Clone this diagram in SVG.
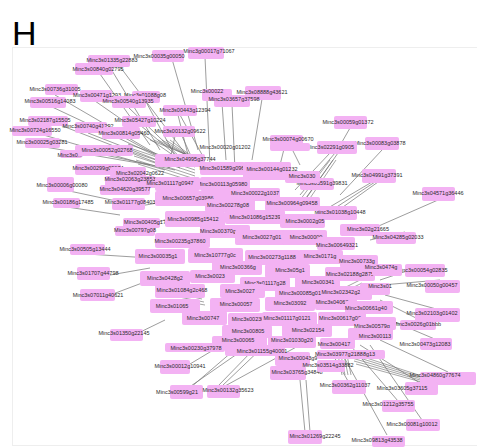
<svg xmlns="http://www.w3.org/2000/svg" width="477" height="447" viewBox="0 0 477 447">
<style>
.n rect{fill:#f3b2f3;stroke:none}
.n text{font-family:"Liberation Sans",Arial,sans-serif;font-size:5.5px;fill:#2a2a2a;text-anchor:middle}
.e path{stroke:#7c7c7c;stroke-width:0.75;fill:none}
.e path.h{stroke:#6a6a6a;stroke-width:0.6}
</style>
<rect width="477" height="447" fill="#fff"/>
<rect x="12.5" y="47.5" width="470" height="398" fill="none" stroke="#eeeeee" stroke-width="1"/>
<text x="12" y="45" font-family="Liberation Sans,Arial,sans-serif" font-size="34" fill="#000">H</text>
<g id="connectors" class="e">
<path d="M108,64 L160,150 M100,74 L150,145 M118,64 L190,160 M205,57 L210,165 M172,59 L198,150 M262,99 L252,160 M232,104 L235,170 M222,103 L226,160 M180,115 L205,160 M178,115 L188,155 M182,136 L195,165 M175,136 L170,160 M350,128 L342,142 M335,153 L300,195 M330,153 L295,190 M338,153 L305,200 M382,150 L340,195 M375,182 L332,210 M378,182 L336,212 M372,182 L328,208 M438,200 L365,232 M285,145 L280,165 M290,145 L300,165"/>
<path d="M55,95 L175,165 M95,101 L180,160 M50,106 L165,160 M128,107 L185,162 M145,100 L180,165 M60,125 L170,168 M40,134 L165,170 M88,133 L170,165 M125,138 L180,168 M140,125 L182,160 M45,147 L150,165 M105,155 L175,170 M120,174 L175,180 M60,189 L135,205 M130,184 L180,190 M67,207 L120,215 M128,208 L175,200 M143,227 L180,215 M87,254 L150,258 M93,278 L150,268 M97,300 L150,280 M126,339 L165,320"/>
<path d="M180,370 L230,340 M188,388 L250,345 M190,388 L240,345 M222,386 L265,345 M218,386 L255,348 M225,386 L300,345 M305,432 L300,380 M310,432 L306,380 M348,381 L330,350 M448,372 L380,340 M420,383 L360,345 M398,401 L350,345 M422,420 L370,345 M387,435 L340,350 M437,340 L390,320 M420,320 L380,300 M440,310 L385,295 M425,265 L380,280 M440,280 L382,285 M405,232 L370,240"/>
<path class="h" d="M130,148 L195,170 M132,152 L195,173 M134,156 L195,176 M136,160 L195,179 M138,164 L195,182 M128,144 L195,167 M150,140 L200,160 M154,140 L202,162 M158,140 L204,164 M162,140 L206,166 M166,140 L208,168 M170,140 L210,170"/>
<path class="h" d="M170,288 L200,296 M172,292 L202,299 M174,296 L204,302 M168,284 L198,293 M176,300 L205,305"/>
<path class="h" d="M350,355 L430,380 M352,358 L432,382 M354,361 L434,384 M348,352 L428,378 M356,364 L436,386 M340,350 L345,375 M343,350 L348,375 M346,350 L351,375 M337,350 L342,375"/>
<path class="h" d="M300,200 L330,160 M303,202 L333,160 M306,204 L336,160 M320,300 L360,280 M322,303 L362,283 M324,306 L364,286"/>
</g>
<g id="nodes">
<g class="n" id="n1"><rect x="88" y="55" width="42" height="12" rx="2"/><text x="112" y="62">Minc3s01335g22883</text></g>
<g class="n" id="n2"><rect x="75" y="63" width="38" height="12" rx="2"/><text x="98" y="71">Minc3s00840g02795</text></g>
<g class="n" id="n3"><rect x="188" y="47" width="36" height="12" rx="2"/><text x="209" y="53">Minc3g00017g71067</text></g>
<g class="n" id="n4"><rect x="152" y="50" width="32" height="12" rx="2"/><text x="159" y="58">Minc3s00035g00050</text></g>
<g class="n" id="n5"><rect x="245" y="86" width="36" height="14" rx="2"/><text x="262" y="94">Minc3s08888g43621</text></g>
<g class="n" id="n6"><rect x="202" y="89" width="30" height="12" rx="2"/><text x="207" y="93">Minc3s00022</text></g>
<g class="n" id="n6b"><rect x="214" y="95" width="36" height="12" rx="2"/><text x="234" y="101">Minc3s03657g37598</text></g>
<g class="n" id="n7"><rect x="45" y="84" width="33" height="11" rx="2"/><text x="55" y="91">Minc3s00736g31005</text></g>
<g class="n" id="n8"><rect x="80" y="90" width="32" height="12" rx="2"/><text x="97" y="97">Minc3s00471g1293</text></g>
<g class="n" id="n9"><rect x="30" y="97" width="36" height="11" rx="2"/><text x="50" y="103">Minc3s00516g14083</text></g>
<g class="n" id="n10"><rect x="132" y="91" width="28" height="12" rx="2"/><text x="145" y="97">Minc3s01088g08</text></g>
<g class="n" id="n11"><rect x="112" y="96" width="34" height="12" rx="2"/><text x="128" y="103">Minc3s00540g13935</text></g>
<g class="n" id="n12"><rect x="163" y="105" width="34" height="11" rx="2"/><text x="185" y="112">Minc3s00443g12394</text></g>
<g class="n" id="n13"><rect x="163" y="126" width="32" height="11" rx="2"/><text x="180" y="133">Minc3s00132g09622</text></g>
<g class="n" id="n14"><rect x="28" y="116" width="40" height="10" rx="2"/><text x="45" y="122">Minc3s02187g15505</text></g>
<g class="n" id="n15"><rect x="122" y="116" width="34" height="11" rx="2"/><text x="140" y="122">Minc3s05427g10224</text></g>
<g class="n" id="n16"><rect x="12" y="126" width="40" height="10" rx="2"/><text x="35" y="132">Minc3s00724g16550</text></g>
<g class="n" id="n17"><rect x="75" y="122" width="32" height="11" rx="2"/><text x="88" y="128">Minc3s00740g41292</text></g>
<g class="n" id="n18"><rect x="102" y="127" width="38" height="12" rx="2"/><text x="124" y="135">Minc3s00814g05460</text></g>
<g class="n" id="n19"><rect x="270" y="135" width="33" height="10" rx="2"/><text x="288" y="141">Minc3s00074g00670</text></g>
<g class="n" id="n20"><rect x="334" y="116" width="33" height="13" rx="2"/><text x="348" y="124">Minc3s00059g01372</text></g>
<g class="n" id="n21"><rect x="365" y="137" width="34" height="13" rx="2"/><text x="380" y="145">Minc3s00083g03878</text></g>
<g class="n" id="n22"><rect x="317" y="141" width="40" height="13" rx="2"/><text x="330" y="149">Minc3s02291g0905</text></g>
<g class="n" id="n23"><rect x="25" y="138" width="35" height="10" rx="2"/><text x="42" y="144">Minc3s00025g03281</text></g>
<g class="n" id="n24"><rect x="75" y="145" width="58" height="11" rx="2"/><text x="107" y="152">Minc3s00052g02768</text></g>
<g class="n" id="n24b"><rect x="60" y="150" width="22" height="8" rx="2"/><text x="70" y="157">Minc3s0...</text></g>
<g class="n" id="n25"><rect x="75" y="164" width="46" height="11" rx="2"/><text x="98" y="170">Minc3s00299g09674</text></g>
<g class="n" id="n25b"><rect x="110" y="167" width="36" height="10" rx="2"/><text x="140" y="175">Minc3s02042g0622</text></g>
<g class="n" id="n26"><rect x="47" y="177" width="27" height="15" rx="2"/><text x="62" y="187">Minc3s00006g00080</text></g>
<g class="n" id="n27"><rect x="105" y="176" width="50" height="12" rx="2"/><text x="130" y="181">Minc3s02063g23853</text></g>
<g class="n" id="n27b"><rect x="100" y="185" width="50" height="10" rx="2"/><text x="125" y="191">Minc3s04620g39577</text></g>
<g class="n" id="n28"><rect x="53" y="198" width="27" height="10" rx="2"/><text x="68" y="204">Minc3s00186g17485</text></g>
<g class="n" id="n29"><rect x="112" y="198" width="33" height="12" rx="2"/><text x="130" y="204">Minc3s01177g08403</text></g>
<g class="n" id="n30"><rect x="123" y="218" width="37" height="10" rx="2"/><text x="145" y="224">Minc3s00405g17</text></g>
<g class="n" id="n31"><rect x="115" y="226" width="40" height="10" rx="2"/><text x="135" y="232">Minc3s00797g08</text></g>
<g class="n" id="n32"><rect x="70" y="244" width="35" height="11" rx="2"/><text x="85" y="251">Minc3s00505g13444</text></g>
<g class="n" id="n33"><rect x="77" y="267" width="33" height="13" rx="2"/><text x="93" y="275">Minc3s01707g44798</text></g>
<g class="n" id="n34"><rect x="80" y="289" width="35" height="12" rx="2"/><text x="98" y="297">Minc3s07011g40621</text></g>
<g class="n" id="n35"><rect x="110" y="329" width="33" height="12" rx="2"/><text x="124" y="335">Minc3s01350g22145</text></g>
<g class="n" id="n36"><rect x="362" y="169" width="34" height="14" rx="2"/><text x="377" y="177">Minc3s04991g37391</text></g>
<g class="n" id="n37"><rect x="422" y="187" width="33" height="14" rx="2"/><text x="438" y="195">Minc3s04571g36446</text></g>
<g class="n" id="n38"><rect x="300" y="178" width="34" height="12" rx="2"/><text x="322" y="185">Minc3s05591g39831</text></g>
<g class="n" id="n39"><rect x="317" y="206" width="40" height="14" rx="2"/><text x="340" y="214">Minc3s01038g10448</text></g>
<g class="n" id="n40"><rect x="340" y="224" width="40" height="12" rx="2"/><text x="368" y="231">Minc3s02g21665</text></g>
<g class="n" id="n41"><rect x="376" y="232" width="40" height="12" rx="2"/><text x="398" y="239">Minc3s04285g02033</text></g>
<g class="n" id="n42"><rect x="405" y="264" width="40" height="13" rx="2"/><text x="422" y="272">Minc3s00054g02835</text></g>
<g class="n" id="n43"><rect x="425" y="280" width="35" height="13" rx="2"/><text x="432" y="287">Minc3s00050g00457</text></g>
<g class="n" id="n44"><rect x="415" y="308" width="45" height="14" rx="2"/><text x="432" y="315">Minc3s02103g01402</text></g>
<g class="n" id="n45"><rect x="400" y="320" width="36" height="10" rx="2"/><text x="417" y="326">Minc3s0026g01bbb</text></g>
<g class="n" id="n46"><rect x="420" y="338" width="32" height="12" rx="2"/><text x="425" y="346">Minc3s00473g12083</text></g>
<g class="n" id="n47"><rect x="160" y="360" width="30" height="14" rx="2"/><text x="180" y="368">Minc3s00012g10941</text></g>
<g class="n" id="n48"><rect x="170" y="385" width="33" height="14" rx="2"/><text x="177" y="394">Minc3s00599g21</text></g>
<g class="n" id="n49"><rect x="207" y="385" width="33" height="13" rx="2"/><text x="228" y="392">Minc3s00132g35623</text></g>
<g class="n" id="n50"><rect x="275" y="352" width="35" height="14" rx="2"/><text x="298" y="360">Minc3s00043g9</text></g>
<g class="n" id="n51"><rect x="270" y="366" width="36" height="14" rx="2"/><text x="297" y="374">Minc3s03765g34848</text></g>
<g class="n" id="n52"><rect x="288" y="430" width="34" height="14" rx="2"/><text x="315" y="438">Minc3s01269g22245</text></g>
<g class="n" id="n53"><rect x="332" y="380" width="34" height="14" rx="2"/><text x="345" y="387">Minc3s00362g11037</text></g>
<g class="n" id="n54"><rect x="420" y="372" width="56" height="13" rx="2"/><text x="435" y="377">Minc3s04860g77674</text></g>
<g class="n" id="n55"><rect x="405" y="382" width="33" height="13" rx="2"/><text x="402" y="390">Minc3s03605g37115</text></g>
<g class="n" id="n56"><rect x="382" y="400" width="33" height="12" rx="2"/><text x="388" y="406">Minc3s01212g35755</text></g>
<g class="n" id="n57"><rect x="406" y="419" width="34" height="12" rx="2"/><text x="412" y="426">Minc3s00081g10012</text></g>
<g class="n" id="n58"><rect x="372" y="436" width="33" height="11" rx="2"/><text x="377" y="442">Minc3s09813g43538</text></g>
<g class="n" id="n59"><rect x="317" y="360" width="28" height="12" rx="2"/><text x="328" y="367">Minc3s03514g33882</text></g>
<g class="n" id="n60"><rect x="317" y="350" width="68" height="9" rx="2"/><text x="345" y="356">Minc3s03977g21888g13</text></g>
<g class="n" id="c1"><rect x="270" y="143" width="40" height="8" rx="2"/><text x="225" y="149">Minc3s00020g01202</text></g>
<g class="n" id="c2"><rect x="155" y="154" width="50" height="13" rx="2"/><text x="190" y="161">Minc3s04995g37744</text></g>
<g class="n" id="c3"><rect x="200" y="162" width="45" height="13" rx="2"/><text x="225" y="170">Minc3s01589g09625</text></g>
<g class="n" id="c4"><rect x="243" y="162" width="48" height="18" rx="2"/><text x="272" y="171">Minc3s00144g01232</text></g>
<g class="n" id="c5"><rect x="285" y="171" width="35" height="12" rx="2"/><text x="302" y="178">Minc3s030</text></g>
<g class="n" id="c6"><rect x="200" y="177" width="50" height="14" rx="2"/><text x="222" y="186">Minc3s00113g05980</text></g>
<g class="n" id="c7"><rect x="155" y="177" width="45" height="14" rx="2"/><text x="170" y="185">Minc3s01117g0947</text></g>
<g class="n" id="c8"><rect x="155" y="191" width="80" height="15" rx="2"/><text x="188" y="200">Minc3s00657g03986</text></g>
<g class="n" id="c9"><rect x="230" y="188" width="50" height="13" rx="2"/><text x="255" y="195">Minc3s00022g1037</text></g>
<g class="n" id="c10"><rect x="265" y="197" width="55" height="14" rx="2"/><text x="292" y="205">Minc3s00964g09458</text></g>
<g class="n" id="c11"><rect x="205" y="199" width="50" height="13" rx="2"/><text x="228" y="207">Minc3s00278g08</text></g>
<g class="n" id="c12"><rect x="165" y="211" width="60" height="16" rx="2"/><text x="193" y="221">Minc3s00985g15412</text></g>
<g class="n" id="c13"><rect x="225" y="210" width="60" height="14" rx="2"/><text x="255" y="219">Minc3s01086g15239</text></g>
<g class="n" id="c14"><rect x="280" y="214" width="45" height="14" rx="2"/><text x="305" y="223">Minc3s0002g05</text></g>
<g class="n" id="c15"><rect x="200" y="225" width="50" height="13" rx="2"/><text x="218" y="233">Minc3s00370g</text></g>
<g class="n" id="c16"><rect x="235" y="230" width="55" height="15" rx="2"/><text x="262" y="239">Minc3s0027g01</text></g>
<g class="n" id="c17"><rect x="282" y="230" width="45" height="15" rx="2"/><text x="306" y="239">Minc3s00000</text></g>
<g class="n" id="c18"><rect x="155" y="233" width="55" height="15" rx="2"/><text x="180" y="243">Minc3s00235g37860</text></g>
<g class="n" id="c19"><rect x="317" y="237" width="38" height="13" rx="2"/><text x="337" y="247">Minc3s00649321</text></g>
<g class="n" id="c20"><rect x="188" y="248" width="55" height="15" rx="2"/><text x="215" y="257">Minc3s10777g0c</text></g>
<g class="n" id="c21"><rect x="245" y="250" width="55" height="15" rx="2"/><text x="272" y="259">Minc3s00273g1188</text></g>
<g class="n" id="c22"><rect x="298" y="250" width="45" height="14" rx="2"/><text x="320" y="258">Minc3s0171g</text></g>
<g class="n" id="c23"><rect x="340" y="255" width="38" height="13" rx="2"/><text x="357" y="263">Minc3s00733g</text></g>
<g class="n" id="c24"><rect x="135" y="249" width="50" height="15" rx="2"/><text x="158" y="258">Minc3s00035g1</text></g>
<g class="n" id="c25"><rect x="212" y="261" width="50" height="14" rx="2"/><text x="238" y="269">Minc3s00366g</text></g>
<g class="n" id="c26"><rect x="265" y="264" width="45" height="14" rx="2"/><text x="290" y="272">Minc3s05g1</text></g>
<g class="n" id="c27"><rect x="325" y="267" width="50" height="14" rx="2"/><text x="350" y="276">Minc3s02188g2875</text></g>
<g class="n" id="c28"><rect x="372" y="264" width="30" height="12" rx="2"/><text x="381" y="269">Minc3s0474g</text></g>
<g class="n" id="c29"><rect x="190" y="270" width="45" height="13" rx="2"/><text x="210" y="278">Minc3s0023</text></g>
<g class="n" id="c30"><rect x="140" y="271" width="50" height="15" rx="2"/><text x="165" y="280">Minc3s0428g2</text></g>
<g class="n" id="c31"><rect x="240" y="277" width="50" height="14" rx="2"/><text x="265" y="285">Minc3s01117g28</text></g>
<g class="n" id="c32"><rect x="295" y="276" width="45" height="14" rx="2"/><text x="318" y="284">Minc3s00341</text></g>
<g class="n" id="c33"><rect x="155" y="284" width="50" height="14" rx="2"/><text x="182" y="292">Minc3s01084g2c468</text></g>
<g class="n" id="c34"><rect x="220" y="284" width="45" height="14" rx="2"/><text x="240" y="293">Minc3s0027</text></g>
<g class="n" id="c35"><rect x="275" y="287" width="50" height="14" rx="2"/><text x="300" y="295">Minc3s00085g01</text></g>
<g class="n" id="c36"><rect x="322" y="286" width="50" height="14" rx="2"/><text x="347" y="294">Minc3s02342g29561</text></g>
<g class="n" id="c37"><rect x="360" y="283" width="30" height="12" rx="2"/><text x="380" y="288">Minc3s01</text></g>
<g class="n" id="c38"><rect x="210" y="298" width="50" height="14" rx="2"/><text x="236" y="306">Minc3s00057</text></g>
<g class="n" id="c39"><rect x="265" y="297" width="50" height="14" rx="2"/><text x="290" y="305">Minc3s03092</text></g>
<g class="n" id="c40"><rect x="315" y="296" width="42" height="14" rx="2"/><text x="332" y="304">Minc3s04063</text></g>
<g class="n" id="c41"><rect x="345" y="301" width="48" height="13" rx="2"/><text x="366" y="310">Minc3s00661g40</text></g>
<g class="n" id="c42"><rect x="150" y="299" width="50" height="14" rx="2"/><text x="172" y="308">Minc3s01065</text></g>
<g class="n" id="c43"><rect x="182" y="311" width="45" height="14" rx="2"/><text x="203" y="320">Minc3s00747</text></g>
<g class="n" id="c44"><rect x="228" y="313" width="40" height="13" rx="2"/><text x="248" y="321">Minc3s00230</text></g>
<g class="n" id="c45"><rect x="262" y="312" width="55" height="14" rx="2"/><text x="287" y="320">Minc3s01117g0121</text></g>
<g class="n" id="c46"><rect x="318" y="312" width="48" height="14" rx="2"/><text x="340" y="320">Minc3s00617g00</text></g>
<g class="n" id="c47"><rect x="358" y="317" width="38" height="13" rx="2"/><text x="372" y="328">Minc3s00579g</text></g>
<g class="n" id="c48"><rect x="222" y="325" width="50" height="13" rx="2"/><text x="248" y="333">Minc3s00805</text></g>
<g class="n" id="c49"><rect x="282" y="324" width="50" height="13" rx="2"/><text x="308" y="332">Minc3s02154</text></g>
<g class="n" id="c50"><rect x="348" y="328" width="45" height="12" rx="2"/><text x="375" y="338">Minc3s00113</text></g>
<g class="n" id="c51"><rect x="212" y="336" width="55" height="12" rx="2"/><text x="238" y="342">Minc3s00065</text></g>
<g class="n" id="c52"><rect x="268" y="336" width="48" height="12" rx="2"/><text x="292" y="342">Minc3s01030g20</text></g>
<g class="n" id="c53"><rect x="165" y="343" width="60" height="9" rx="2"/><text x="196" y="350">Minc3s00230g37978</text></g>
<g class="n" id="c54"><rect x="225" y="345" width="60" height="11" rx="2"/><text x="262" y="353">Minc3s01155g40001</text></g>
<g class="n" id="c55"><rect x="320" y="338" width="35" height="11" rx="2"/><text x="334" y="346">Minc3s00417</text></g>
</g>
</svg>
